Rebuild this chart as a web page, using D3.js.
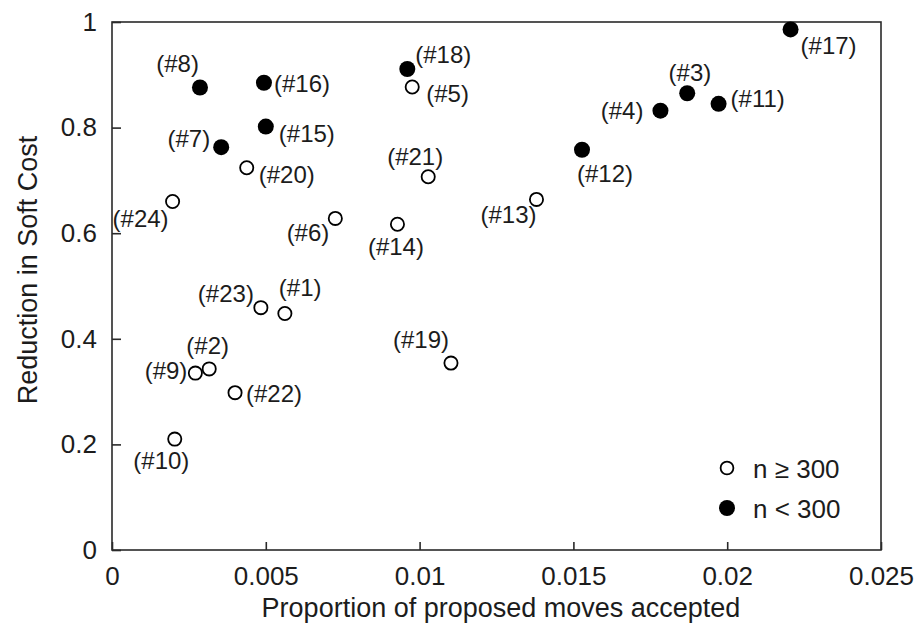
<!DOCTYPE html>
<html>
<head>
<meta charset="utf-8">
<script src="https://cdn.jsdelivr.net/npm/d3@7"></script>
<style>
    body { margin: 0; background: #ffffff; }
    svg text { font-family: "Liberation Sans", Arial, sans-serif; fill: #1c1c1c; }
</style>
</head>
<body>
<svg id="chart" width="917" height="626"></svg>
<script>
"use strict";

// series values
const pointIds   = [1, 2, 3, 4, 5, 6, 7, 8, 9, 10, 11, 12,
                    13, 14, 15, 16, 17, 18, 19, 20, 21, 22, 23, 24];
const accepted   = [0.00562, 0.00316, 0.0187, 0.01783, 0.00976, 0.00726, 0.00355, 0.00286,
                    0.00271, 0.00204, 0.01972, 0.01528, 0.0138, 0.00928, 0.0050, 0.00494,
                    0.02206, 0.0096, 0.01102, 0.00438, 0.01028, 0.0040, 0.00484, 0.00197];
const reduction  = [0.448, 0.343, 0.865, 0.832, 0.877, 0.628, 0.763, 0.876,
                    0.335, 0.210, 0.845, 0.758, 0.664, 0.617, 0.802, 0.885,
                    0.986, 0.911, 0.354, 0.724, 0.707, 0.298, 0.459, 0.660];
// true: n >= 300 (open), false: n < 300 (filled)
const largeN     = [true, true, false, false, true, true, false, false,
                    true, true, false, false, true, true, false, false,
                    false, false, true, true, true, true, true, true];

const xTicks = [0, 0.005, 0.01, 0.015, 0.02, 0.025];
const yTicks = [0, 0.2, 0.4, 0.6, 0.8, 1];
const legendLabels = ["n \u2265 300", "n < 300"];

// label placement around each point: [anchor, dx, dy]
const labelPlace = {
    1: ["start", -6, -17],  2: ["middle", -1.5, -15], 3: ["middle", 2.7, -12.6],
    4: ["end", -17, 8],     5: ["start", 14, 15],     6: ["end", -6, 23],
    7: ["end", -11, 0],     8: ["end", -1, -15],      9: ["end", -8, 6],
    10: ["end", 14.6, 30],  11: ["start", 12, 3],     12: ["start", -5, 32],
    13: ["end", 0, 24],     14: ["middle", -1.5, 31], 15: ["start", 13, 15],
    16: ["start", 10, 9],   17: ["start", 10, 25],    18: ["start", 8, -6],
    19: ["end", -2, -15],   20: ["start", 12, 15],    21: ["end", 15, -12],
    22: ["start", 11, 9],   23: ["end", -7, -6],      24: ["end", -4, 25]
};

const plotLeft = 112, plotRight = 881, plotTop = 22, plotBottom = 550;

function drawChart() {
    const svg = d3.select("svg#chart");
    const xScale = d3.scaleLinear().domain([0, 0.025]).range([plotLeft, plotRight]);
    const yScale = d3.scaleLinear().domain([0, 1]).range([plotBottom, plotTop]);

    let points = pointIds.map((id, i) => ({
        id: id, x: accepted[i], y: reduction[i], open: largeN[i]
    }));

    // frame
    svg.append("rect")
        .attr("x", plotLeft).attr("y", plotTop)
        .attr("width", plotRight - plotLeft).attr("height", plotBottom - plotTop)
        .attr("fill", "none").attr("stroke", "#2a2a2a").attr("stroke-width", 1.6);

    // axes with inward ticks
    let xAxis = d3.axisBottom(xScale).tickValues(xTicks).tickSize(-8)
        .tickPadding(17).tickFormat(d => String(+d.toFixed(3)));
    let gx = svg.append("g").attr("transform", `translate(0,${plotBottom})`).call(xAxis);

    let yAxis = d3.axisLeft(yScale).tickValues(yTicks).tickSize(-9)
        .tickPadding(15).tickFormat(d => String(+d.toFixed(1)));
    let gy = svg.append("g").attr("transform", `translate(${plotLeft},0)`).call(yAxis);

    [gx, gy].forEach(g => {
        g.select(".domain").remove();
        g.selectAll(".tick line").attr("stroke", "#2a2a2a").attr("stroke-width", 1.6);
        g.selectAll(".tick text").attr("font-size", 26).attr("fill", "#1c1c1c");
    });

    // axis titles
    svg.append("text")
        .attr("x", 501).attr("y", 617)
        .attr("text-anchor", "middle").attr("font-size", 27)
        .text("Proportion of proposed moves accepted");
    svg.append("text")
        .attr("transform", "translate(37,270) rotate(-90)")
        .attr("text-anchor", "middle").attr("font-size", 27)
        .text("Reduction in Soft Cost");

    // markers
    svg.append("g").selectAll("circle")
        .data(points)
        .join("circle")
            .attr("cx", p => xScale(p.x))
            .attr("cy", p => yScale(p.y))
            .attr("r", p => p.open ? 6.6 : 8)
            .attr("fill", p => p.open ? "#ffffff" : "#000000")
            .attr("stroke", "#000000")
            .attr("stroke-width", p => p.open ? 1.8 : 0);

    // point labels
    svg.append("g").selectAll("text")
        .data(points)
        .join("text")
            .attr("x", p => xScale(p.x) + labelPlace[p.id][1])
            .attr("y", p => yScale(p.y) + labelPlace[p.id][2])
            .attr("text-anchor", p => labelPlace[p.id][0])
            .attr("font-size", 24)
            .text(p => "(#" + p.id + ")");

    // legend
    let legend = svg.append("g").attr("transform", "translate(727,468)");
    legendLabels.forEach(function(label, i) {
        let row = legend.append("g").attr("transform", `translate(0,${i * 40})`);
        row.append("circle")
            .attr("r", i === 0 ? 6.4 : 8)
            .attr("fill", i === 0 ? "#ffffff" : "#000000")
            .attr("stroke", "#000000")
            .attr("stroke-width", i === 0 ? 1.8 : 0);
        row.append("text")
            .attr("x", 26).attr("y", 10)
            .attr("font-size", 26)
            .text(label);
    });
}

window.addEventListener("load", drawChart);
</script>
</body>
</html>
